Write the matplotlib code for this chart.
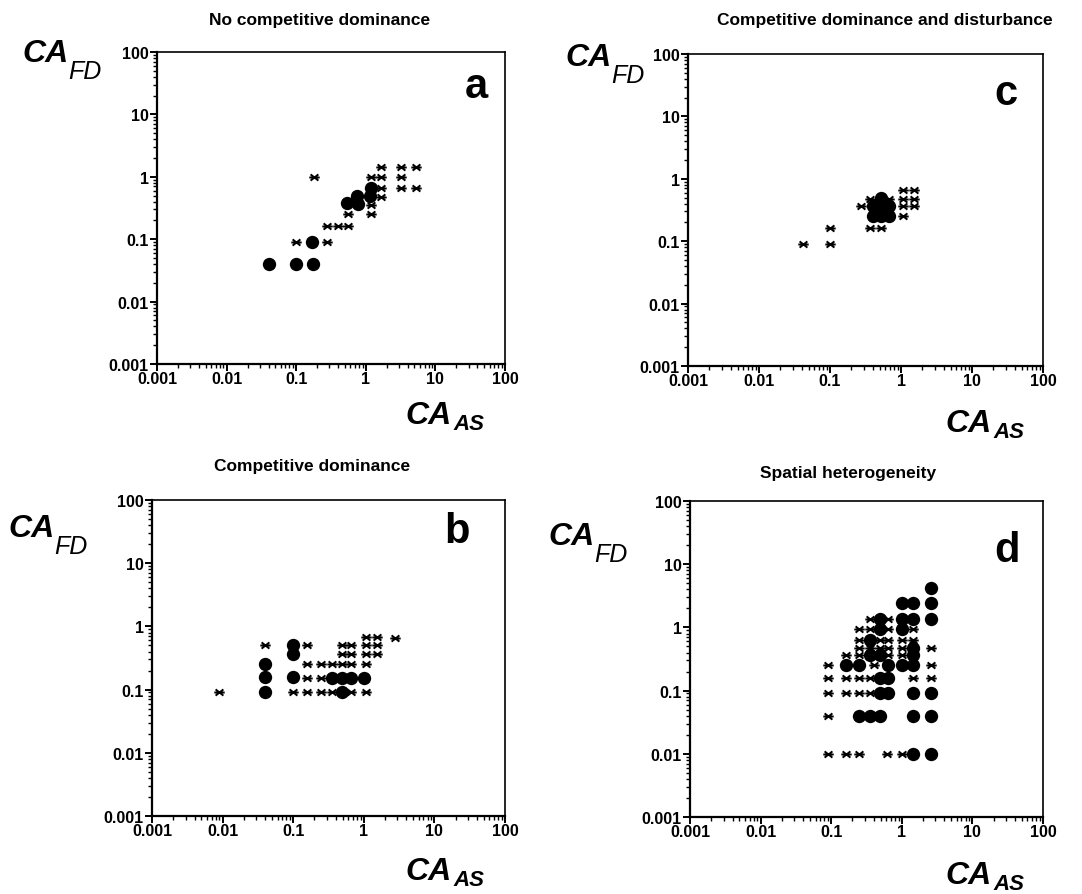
import matplotlib.pyplot as plt
from matplotlib.path import Path
from matplotlib.ticker import LogLocator, NullFormatter

plt.rcParams['font.family'] = ['Liberation Sans', 'DejaVu Sans']

W, H = 1082, 895

# panel a: no competitive dominance
a_star_x = [0.18, 0.1, 0.28, 0.28, 0.4, 0.56, 0.56, 1.17, 1.17, 1.17, 1.66, 1.66,
            1.66, 1.66, 3.2, 3.2, 3.2, 5.2, 5.2]
a_star_y = [1.0, 0.09, 0.09, 0.16, 0.16, 0.16, 0.25, 0.25, 0.35, 1.0, 1.43, 1.0,
            0.66, 0.48, 1.43, 1.0, 0.66, 1.43, 0.66]
a_dot_x = [0.041, 0.1, 0.177, 0.17, 0.54, 0.75, 0.77, 1.17, 1.14]
a_dot_y = [0.04, 0.04, 0.04, 0.09, 0.38, 0.5, 0.37, 0.66, 0.5]

# panel b: competitive dominance
b_star_x = [0.009, 0.04, 0.1, 0.155, 0.155, 0.155, 0.155, 0.25, 0.25, 0.25, 0.36, 0.36,
            0.49, 0.49, 0.49, 0.65, 0.65, 0.65, 0.65, 1.06, 1.06, 1.06, 1.06, 1.06,
            1.55, 1.55, 1.55, 2.77]
b_star_y = [0.09, 0.5, 0.09, 0.5, 0.25, 0.155, 0.09, 0.25, 0.155, 0.09, 0.25, 0.09,
            0.5, 0.36, 0.25, 0.5, 0.36, 0.25, 0.09, 0.67, 0.5, 0.36, 0.25, 0.09,
            0.67, 0.5, 0.36, 0.65]
b_dot_x = [0.04, 0.04, 0.04, 0.1, 0.1, 0.1, 0.36, 0.49, 0.65, 1.0, 0.49]
b_dot_y = [0.25, 0.16, 0.09, 0.5, 0.36, 0.16, 0.155, 0.155, 0.155, 0.155, 0.09]

# panel c: competitive dominance and disturbance
c_star_x = [0.041, 0.1, 0.1, 0.27, 0.37, 0.37, 0.52, 0.68, 1.05, 1.05, 1.05, 1.05,
            1.54, 1.54, 1.54]
c_star_y = [0.09, 0.09, 0.16, 0.36, 0.48, 0.16, 0.16, 0.48, 0.25, 0.36, 0.48, 0.66,
            0.66, 0.48, 0.36]
c_dot_x = [0.52, 0.4, 0.52, 0.68, 0.4, 0.52, 0.68]
c_dot_y = [0.5, 0.36, 0.36, 0.36, 0.25, 0.25, 0.25]

# panel d: spatial heterogeneity
d_star_x = [0.36, 0.64, 0.25, 0.36, 0.64, 1.44, 0.25, 0.49, 0.64, 1.0, 1.44,
            0.25, 0.36, 0.49, 0.64, 1.0, 2.56, 0.16, 0.25, 0.64, 1.0, 0.09, 0.4, 2.56,
            0.09, 0.16, 0.25, 0.36, 1.44, 2.56, 0.09, 0.16, 0.25, 0.36, 0.09,
            0.09, 0.16, 0.25, 0.61, 1.0]
d_star_y = [1.34, 1.34, 0.93, 0.93, 0.93, 0.93, 0.64, 0.64, 0.64, 0.64, 0.64,
            0.48, 0.48, 0.48, 0.48, 0.48, 0.48, 0.36, 0.36, 0.36, 0.36, 0.25, 0.25, 0.25,
            0.16, 0.16, 0.16, 0.16, 0.16, 0.16, 0.09, 0.09, 0.09, 0.09, 0.04,
            0.01, 0.01, 0.01, 0.01, 0.01]
d_dot_x = [2.56, 1.0, 1.44, 2.56, 0.49, 1.0, 1.44, 2.56, 0.49, 1.0, 0.36, 1.44,
           0.36, 0.49, 1.44, 0.16, 0.25, 0.64, 1.0, 1.44, 0.49, 0.64,
           0.49, 0.64, 1.44, 2.56, 0.25, 0.36, 0.49, 1.44, 2.56, 1.44, 2.56]
d_dot_y = [4.2, 2.47, 2.47, 2.47, 1.34, 1.34, 1.34, 1.34, 0.93, 0.93, 0.64, 0.48,
           0.36, 0.36, 0.36, 0.25, 0.25, 0.25, 0.25, 0.25, 0.16, 0.16,
           0.09, 0.09, 0.09, 0.09, 0.04, 0.04, 0.04, 0.04, 0.04, 0.01, 0.01]

ticks = [0.001, 0.01, 0.1, 1, 10, 100]
tick_labels = ["0.001", "0.01", "0.1", "1", "10", "100"]

# star-like marker: horizontal bar crossed by an X
star = Path([(-1, 0), (1, 0), (-0.75, -0.6), (0.75, 0.6), (-0.75, 0.6), (0.75, -0.6)],
            [Path.MOVETO, Path.LINETO] * 3)


def px(x, y):
    return x / W, 1 - y / H


def box(l, t, r, b):
    return [l / W, 1 - b / H, (r - l) / W, (b - t) / H]


def label(fig, x, y, sub, dx, dy, bold_sub):
    fig.text(*px(x, y), "CA", fontsize=23, fontweight="bold", style="italic",
             va="baseline", ha="left")
    fig.text(*px(x + dx, y + dy), sub, fontsize=18 if not bold_sub else 16,
             fontweight="bold" if bold_sub else "normal", style="italic",
             va="baseline", ha="left")


panels = [
    ("a", "No competitive dominance", (157, 53, 505, 365), a_star_x, a_star_y, a_dot_x, a_dot_y,
     (320, 25), (488, 98), (22, 62), (405, 424)),
    ("c", "Competitive dominance and disturbance", (688, 55, 1043, 367), c_star_x, c_star_y,
     c_dot_x, c_dot_y, (885, 25), (1018, 105), (565, 66), (945, 432)),
    ("b", "Competitive dominance", (152, 501, 505, 817), b_star_x, b_star_y, b_dot_x, b_dot_y,
     (312, 471), (470, 543), (8, 537), (405, 880)),
    ("d", "Spatial heterogeneity", (690, 502, 1043, 818), d_star_x, d_star_y, d_dot_x, d_dot_y,
     (848, 478), (1020, 562), (548, 545), (945, 884)),
]

fig = plt.figure(figsize=(W / 100, H / 100), dpi=100)

for tag, title, rect, sx, sy, dx_, dy_, tpos, lpos, fdpos, aspos in panels:
    ax = fig.add_axes(box(*rect))
    ax.set_xscale("log")
    ax.set_yscale("log")
    ax.set_xlim(0.001, 100)
    ax.set_ylim(0.001, 100)
    ax.plot(sx, sy, linestyle="none", marker=star, markersize=7.5,
            markeredgewidth=1.4, color="black")
    ax.plot(dx_, dy_, linestyle="none", marker="o", markersize=9.6,
            color="black", markeredgewidth=0)

    ax.set_xticks(ticks)
    ax.set_xticklabels(tick_labels, fontsize=11.5, fontweight="bold")
    ax.set_yticks(ticks)
    ax.set_yticklabels(tick_labels, fontsize=11.5, fontweight="bold")
    for axis in (ax.xaxis, ax.yaxis):
        axis.set_minor_locator(LogLocator(base=10, subs=range(2, 10)))
        axis.set_minor_formatter(NullFormatter())
    ax.tick_params(which="major", direction="out", length=5, width=1.4, pad=1)
    ax.tick_params(which="minor", direction="out", length=3, width=1.0)
    ax.tick_params(axis="x", pad=0)
    for s in ax.spines.values():
        s.set_linewidth(1.6)
    ax.spines["top"].set_linewidth(1.2)
    ax.spines["right"].set_linewidth(1.2)

    fig.text(*px(*tpos), title, fontsize=12.5, fontweight="bold",
             ha="center", va="baseline")
    fig.text(*px(*lpos), tag, fontsize=30, fontweight="bold",
             ha="right", va="baseline")
    label(fig, fdpos[0], fdpos[1], "FD", 46, 17, False)
    label(fig, aspos[0], aspos[1], "AS", 48, 6, True)

fig.savefig("out.png", dpi=100)
